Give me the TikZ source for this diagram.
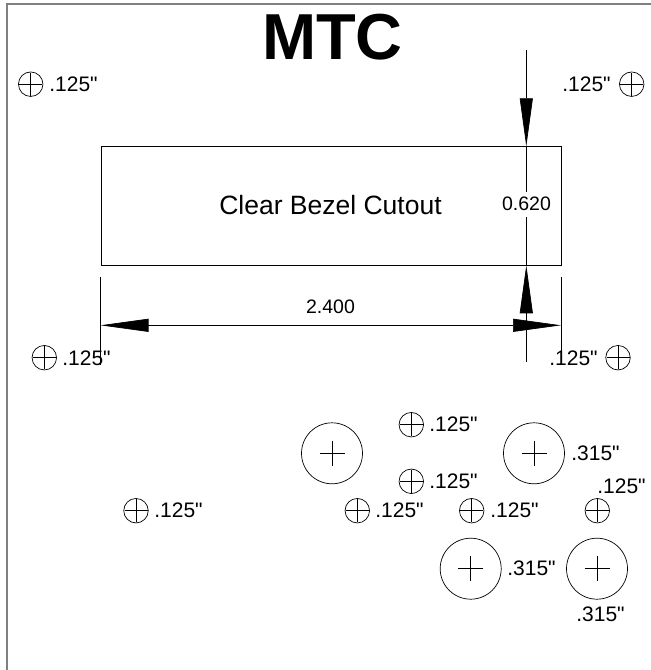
\documentclass[tikz,border=0pt]{standalone}
\usepackage{fontspec}
\newfontfamily\labelfont{Liberation Sans}
\usetikzlibrary{arrows.meta}
\tikzset{
  smallhole/.style={circle,draw,inner sep=0pt,minimum size=24.5pt},
  bighole/.style={circle,draw,inner sep=0pt,minimum size=61pt},
  holelabel/.style={anchor=west,inner sep=0pt,font=\labelfont\fontsize{21}{21}\selectfont},
  dimlabel/.style={inner sep=0pt,font=\labelfont\fontsize{19.5}{20}\selectfont},
  dimarrow/.style={-{Triangle[length=48pt,width=13pt]}},
}
\begin{document}
\begin{tikzpicture}[x=1pt,y=-1pt,line width=0.7pt]
  % Parameters
  \def\smallr{11.5} % cross in a small hole
  \def\bigr{12.5}   % cross in a big hole

  \useasboundingbox (0,0) rectangle (651,670);

  % Outer frame
  \draw[gray,line width=1.2pt] (7,670) -- (7,4) -- (651,4);

  % Title
  \node[inner sep=0pt,font=\labelfont\fontsize{65}{65}\selectfont\bfseries] (title) at (332.5,37) {MTC};

  % Cutout
  \node[draw,inner sep=0pt,minimum width=460.5pt,minimum height=119pt,anchor=north west] (cutout) at (100.5,146.3) {};
  \node[inner sep=0pt,font=\labelfont\fontsize{26.5}{27}\selectfont] (cutouttext) at (330.5,205.5) {Clear Bezel Cutout};

  % Height dimension
  \node[dimlabel] (heightlabel) at (526.5,204) {0.620};
  \coordinate (heighttop) at (526.3,50);
  \coordinate (heightbot) at (526.3,362);
  \coordinate (cuttop) at (526.3,146.3);
  \coordinate (cutbot) at (526.3,265.3);
  \draw[dimarrow] (heighttop) -- (cuttop);
  \draw[dimarrow] (heightbot) -- (cutbot);
  \draw (cuttop) -- (526.3,191.5);
  \draw (cutbot) -- (526.3,217);

  % Width dimension
  \coordinate (extleft) at (100.5,277);
  \coordinate (extleftend) at (100.5,365);
  \coordinate (extright) at (561,277);
  \coordinate (extrightend) at (561,365);
  \draw (extleft) -- (extleftend);
  \draw (extright) -- (extrightend);
  \coordinate (widthleft) at (100.5,325.3);
  \coordinate (widthright) at (561,325.3);
  \draw[{Triangle[length=48pt,width=13pt]}-{Triangle[length=48pt,width=13pt]}] (widthleft) -- (widthright);
  \node[dimlabel] (widthlabel) at (330.5,306.5) {2.400};

  % Small holes
  \foreach \name/\x/\y in {a/30.7/84.2,b/631.7/84.2,c/44.3/357.7,d/618/357.7,e/136/510.7,
      f/411.3/424.7,g/411.3/481.3,h/357.3/510.7,i/471.7/510.7,j/597.3/510.7} {
    \node[smallhole] (\name) at (\x,\y) {};
    \draw (\name.center) ++(-\smallr,0) -- ++(2*\smallr,0);
    \draw (\name.center) ++(0,-\smallr) -- ++(0,2*\smallr);
  }

  % Big holes
  \foreach \name/\x/\y in {k/332/453.3,l/534/453.3,m/470.7/568.7,n/597/568.7} {
    \node[bighole] (\name) at (\x,\y) {};
    \draw (\name.center) ++(-\bigr,0) -- ++(2*\bigr,0);
    \draw (\name.center) ++(0,-\bigr) -- ++(0,2*\bigr);
  }

  % Hole sizes
  \foreach \name/\x/\y in {ta/49/84.2,tb/562/84.2,tc/62/358,td/549/358,te/154/510.7,
      tf/429/424.7,tg/429/481.3,th/375/510.7,ti/490/510.7,tj/597/486.7} {
    \node[holelabel] (\name) at (\x,\y) {.125"};
  }
  \foreach \name/\x/\y in {tl/571/453.3,tm/507/568.7,tn/576/614} {
    \node[holelabel] (\name) at (\x,\y) {.315"};
  }
\end{tikzpicture}
\end{document}
